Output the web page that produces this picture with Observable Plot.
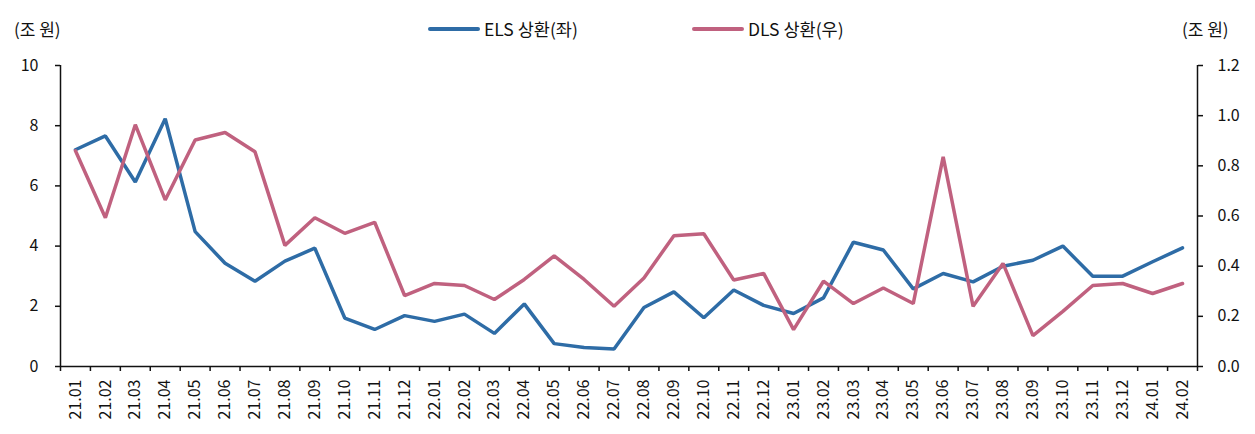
<!DOCTYPE html>
<html>
<head>
<meta charset="utf-8">
<script src="https://cdn.jsdelivr.net/npm/d3@7"></script>
<script src="https://cdn.jsdelivr.net/npm/@observablehq/plot@0.6"></script>
<style>
  html, body { margin: 0; padding: 0; background: #fff; }
  body { font-family: "Noto Sans CJK KR", "Noto Sans", sans-serif; }
  #wrap { position: relative; width: 1255px; }
  #head { position: relative; height: 50px; color: #111; }
  .unit { position: absolute; top: 16px; font-size: 17px; }
  .leg { position: absolute; top: 16px; display: flex; align-items: center; font-size: 17.5px; }
  .sw { display: inline-block; width: 52px; height: 4px; border-radius: 2px; margin-right: 4px; }
</style>
</head>
<body>
<div id="wrap">
  <div id="head"></div>
  <div id="chart"></div>
</div>
<script>
const months = ["21.01","21.02","21.03","21.04","21.05","21.06","21.07","21.08","21.09","21.10","21.11","21.12",
  "22.01","22.02","22.03","22.04","22.05","22.06","22.07","22.08","22.09","22.10","22.11","22.12",
  "23.01","23.02","23.03","23.04","23.05","23.06","23.07","23.08","23.09","23.10","23.11","23.12",
  "24.01","24.02"];
const els = [7.2,7.66,6.13,8.23,4.48,3.43,2.83,3.5,3.93,1.61,1.23,1.69,
  1.5,1.74,1.1,2.08,0.76,0.63,0.58,1.96,2.48,1.62,2.54,2.03,
  1.76,2.28,4.13,3.87,2.58,3.09,2.81,3.33,3.53,4.0,3.0,3.0,
  3.48,3.94];
const dls = [0.86,0.593,0.964,0.664,0.903,0.933,0.856,0.483,0.593,0.531,0.575,0.283,
  0.331,0.323,0.267,0.347,0.441,0.347,0.24,0.353,0.521,0.529,0.345,0.371,
  0.147,0.34,0.251,0.313,0.251,0.836,0.24,0.411,0.123,0.22,0.323,0.331,
  0.291,0.331];
const leftTicks = [0,2,4,6,8,10];
const rightTicks = [0,0.2,0.4,0.6,0.8,1.0,1.2];
const seriesNames = ["ELS 상환(좌)", "DLS 상환(우)"];
const colors = ["#2E6CA6", "#C0617F"];
const unitLabel = "(조 원)";

const leftMax = 10, rightMax = 1.2, k = leftMax / rightMax;
const rows = months.map((m, i) => ({i, m, els: els[i], dls: dls[i] * k}));

// header (legend + units)
const head = document.getElementById("head");
head.innerHTML = `
  <span class="unit" style="left:14px">${unitLabel}</span>
  <span class="unit" style="left:1182px">${unitLabel}</span>
  <span class="leg" style="left:428px"><span class="sw" style="background:${colors[0]}"></span>${seriesNames[0]}</span>
  <span class="leg" style="left:692px"><span class="sw" style="background:${colors[1]}"></span>${seriesNames[1]}</span>`;

const n = months.length;
const chart = Plot.plot({
  width: 1255,
  height: 384,
  marginTop: 15,
  marginBottom: 68,
  marginLeft: 60,
  marginRight: 58,
  style: {fontFamily: '"Noto Sans CJK KR", "Noto Sans", sans-serif', fontSize: "16px", color: "#111", background: "#fff"},
  x: {type: "linear", domain: [-0.5, n - 0.5]},
  y: {domain: [0, leftMax]},
  marks: [
    Plot.ruleY([0], {stroke: "#111", strokeWidth: 1.5}),
    Plot.ruleX([-0.5, n - 0.5], {y1: 0, y2: leftMax, stroke: "#111", strokeWidth: 1.5}),
    Plot.axisY({anchor: "left", ticks: leftTicks, tickSize: 5, tickPadding: 17, tickFormat: d => d, label: null, fontSize: 16, strokeWidth: 1.5}),
    Plot.axisY({anchor: "right", ticks: rightTicks.map(v => v * k), tickSize: 5, tickPadding: 15,
      tickFormat: d => (d / k).toFixed(1), label: null, fontSize: 16, strokeWidth: 1.5}),
    Plot.axisX({ticks: d3.range(-0.5, n, 1), tickSize: 5, tickFormat: () => "", label: null, strokeWidth: 1.5}),
    Plot.axisX({ticks: d3.range(n), tickSize: 0, tickPadding: 13, tickRotate: -90,
      tickFormat: i => months[i], label: null, fontSize: 16}),
    Plot.line(rows, {x: "i", y: "els", stroke: colors[0], strokeWidth: 3.5, strokeLinejoin: "miter"}),
    Plot.line(rows, {x: "i", y: "dls", stroke: colors[1], strokeWidth: 3.5, strokeLinejoin: "miter"})
  ]
});
document.getElementById("chart").appendChild(chart);
</script>
</body>
</html>
